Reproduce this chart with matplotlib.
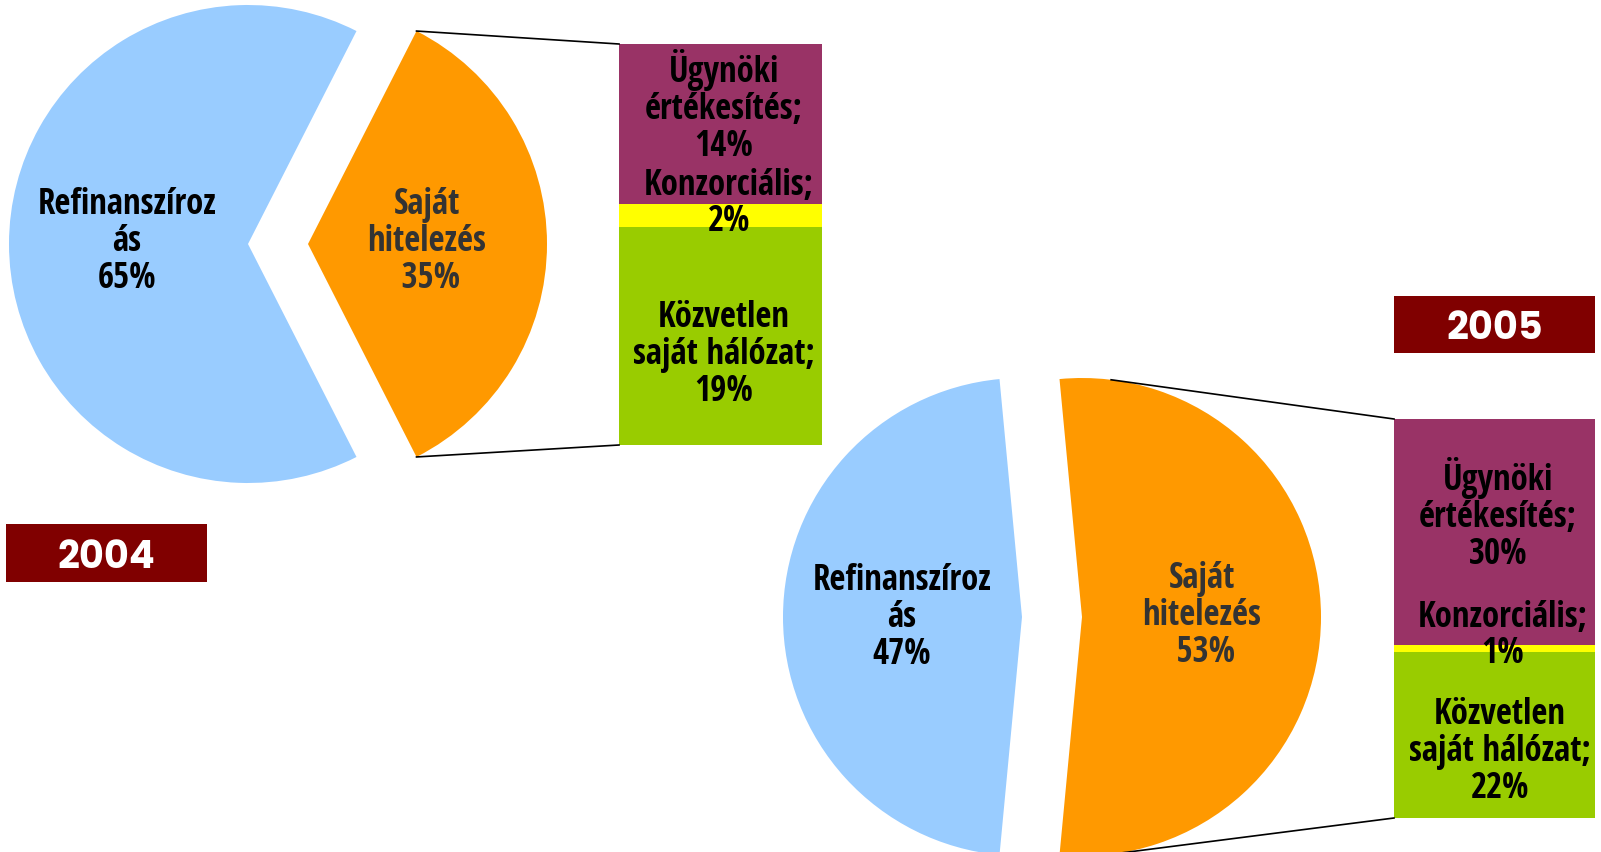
import numpy as np
import matplotlib
matplotlib.use("Agg")
import matplotlib.pyplot as plt
from matplotlib.patches import Rectangle

# --- data ---
years = ["2004", "2005"]
pie_labels = ["Saját\nhitelezés", "Refinanszíroz\nás"]
pie_2004 = [35, 65]
pie_2005 = [53, 47]
bar_labels = ["Ügynöki\nértékesítés;", "Konzorciális;", "Közvetlen\nsaját hálózat;"]
bar_2004 = [14, 2, 19]
bar_2005 = [30, 1, 22]

pie_colors = ["#FF9900", "#99CCFF"]
bar_colors = ["#993366", "#FFFF00", "#99CC00"]
year_color = "#800000"

W, H = 1601, 852
label_font = ["Open Sans Condensed", "DejaVu Sans"]
year_font = ["Poppins", "DejaVu Sans"]

fig = plt.figure(figsize=(W / 100, H / 100), dpi=100)
ax = fig.add_axes([0, 0, 1, 1])


def pie_of_bar(ax, pie_vals, bar_vals, center, radius, shift, bar_box, link_angle):
    # pie: first wedge (Saját hitelezés) centred on 0 deg, pushed to the right
    start = -pie_vals[0] / sum(pie_vals) * 360 / 2
    ax.pie(pie_vals, colors=pie_colors, startangle=start, center=center,
           radius=radius, explode=[shift, 0], frame=True,
           wedgeprops=dict(linewidth=0))

    # stacked bar, drawn top -> bottom
    left, bottom, width, height = bar_box
    total = sum(bar_vals)
    top = bottom + height
    for v, c in zip(bar_vals, bar_colors):
        h = v / total * height
        ax.bar(left, h, width=width, bottom=top - h, align="edge", color=c, linewidth=0)
        top -= h

    # connector lines from the exploded wedge to the bar corners
    cx = center[0] + shift
    cy = center[1]
    a = np.deg2rad(link_angle)
    ax.plot([cx + radius * np.cos(a), left], [cy + radius * np.sin(a), bottom + height],
            color="black", lw=1.2)
    ax.plot([cx + radius * np.cos(a), left], [cy - radius * np.sin(a), bottom],
            color="black", lw=1.2)


pie_of_bar(ax, pie_2004, bar_2004, center=(248, 608), radius=239, shift=60,
           bar_box=(619, 407, 203, 401), link_angle=63)
pie_of_bar(ax, pie_2005, bar_2005, center=(1022, 235), radius=239, shift=60,
           bar_box=(1394, 34, 201, 399), link_angle=83)

lab_kw = dict(ha="center", va="center", fontsize=25, fontweight="bold",
              family=label_font, linespacing=1.02)

# 2004 labels
ax.text(127, 610, f"{pie_labels[1]}\n{pie_2004[1]}%", color="black", **lab_kw)
ax.text(427, 610, f"{pie_labels[0]}\n {pie_2004[0]}%", color="#333333", **lab_kw)
ax.text(724, 745, f"{bar_labels[0]}\n{bar_2004[0]}%", color="black", **lab_kw)
ax.text(729, 648, f"{bar_labels[1]}\n{bar_2004[1]}%", color="black", **lab_kw)
ax.text(724, 497, f"{bar_labels[2]}\n{bar_2004[2]}%", color="black", **lab_kw)

# 2005 labels
ax.text(902, 234, f"{pie_labels[1]}\n{pie_2005[1]}%", color="black", **lab_kw)
ax.text(1202, 236, f"{pie_labels[0]}\n {pie_2005[0]}%", color="#333333", **lab_kw)
ax.text(1498, 337, f"{bar_labels[0]}\n{bar_2005[0]}%", color="black", **lab_kw)
ax.text(1503, 216, f"{bar_labels[1]}\n{bar_2005[1]}%", color="black", **lab_kw)
ax.text(1500, 100, f"{bar_labels[2]}\n{bar_2005[2]}%", color="black", **lab_kw)

# year boxes
for (x0, y0, w, h), yr in zip([(6, 270, 201, 58), (1394, 499, 201, 57)], years):
    ax.add_patch(Rectangle((x0, y0), w, h, color=year_color, linewidth=0))
    ax.text(x0 + w / 2, y0 + h / 2, yr, ha="center", va="center_baseline", color="white",
            fontsize=27.5, fontweight="bold", family=year_font)

ax.set_xlim(0, W)
ax.set_ylim(0, H)
ax.set_aspect("equal")
ax.axis("off")

fig.savefig("out.png", dpi=100, facecolor="white")
